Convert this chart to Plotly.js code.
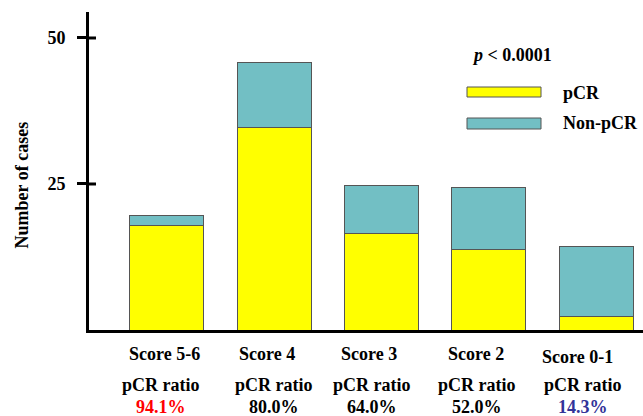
<!DOCTYPE html>
<html>
<head>
<meta charset="utf-8">
<script src="https://cdn.plot.ly/plotly-3.0.1.min.js"></script>
<style>html,body{margin:0;padding:0;background:#fff;}#chart{width:643px;height:416px;}</style>
</head>
<body>
<div id="chart"></div>
<script>
// ---- data ----
var categories = ["Score 5-6", "Score 4", "Score 3", "Score 2", "Score 0-1"];
var pcrValues = [17.9, 34.7, 16.6, 13.8, 2.3];
var nonPcrValues = [1.7, 11.1, 8.1, 10.6, 12.0];
var ratioLabels = ["94.1%", "80.0%", "64.0%", "52.0%", "14.3%"];
var tickVals = [25, 50];
var tickText = ["25", "50"];
var pText = "<i>p</i> < 0.0001";
var seriesNames = ["pCR", "Non-pCR"];

// ---- style ----
var FONT = '"Liberation Serif", "Times New Roman", Times, serif';
var YELLOW = "#FFFF00", TEAL = "#72BFC4", EDGE = "#555555";
var ratioColors = ["#FF0000", "#000000", "#000000", "#000000", "#333399"];
var W = 643, H = 416, ML = 89, MR = 0, MT = 12, MB = 86;
var PW = W - ML - MR, PH = H - MT - MB;
function px(x) { return (x - ML) / PW; }
function py(y) { return (H - MB - y) / PH; }
var scoreShift = [-2, -7, -13, -13, -19];
var scoreY = [354, 354, 354, 354, 357];
var ratioShift = [-6, 0, -10, -12, -13];

var traces = [
  {type: "bar", name: seriesNames[0], x: categories, y: pcrValues,
   marker: {color: YELLOW, line: {color: EDGE, width: 1}}, showlegend: false},
  {type: "bar", name: seriesNames[1], x: categories, y: nonPcrValues,
   marker: {color: TEAL, line: {color: EDGE, width: 1}}, showlegend: false}
];

var ann = [];
var bold = {family: FONT, size: 18, color: "#000", weight: "bold"};
categories.forEach(function (c, i) {
  ann.push({xref: "x", yref: "paper", x: i, y: py(scoreY[i]), xshift: scoreShift[i],
    text: c, showarrow: false, xanchor: "center", yanchor: "middle", font: bold});
  ann.push({xref: "x", yref: "paper", x: i, y: py(385), xshift: ratioShift[i],
    text: "pCR ratio", showarrow: false, xanchor: "center", yanchor: "middle", font: bold});
  ann.push({xref: "x", yref: "paper", x: i, y: py(407), xshift: ratioShift[i],
    text: ratioLabels[i], showarrow: false, xanchor: "center", yanchor: "middle",
    font: {family: FONT, size: 18, color: ratioColors[i], weight: "bold"}});
});
ann.push({xref: "paper", yref: "paper", x: px(21.5), y: py(185), text: "Number of cases",
  textangle: -90, showarrow: false, xanchor: "center", yanchor: "middle", font: bold});
ann.push({xref: "paper", yref: "paper", x: px(512), y: py(55), text: pText,
  showarrow: false, xanchor: "center", yanchor: "middle", font: bold});
ann.push({xref: "paper", yref: "paper", x: px(561), y: py(93), text: seriesNames[0],
  showarrow: false, xanchor: "left", yanchor: "middle", font: bold});
ann.push({xref: "paper", yref: "paper", x: px(561), y: py(123), text: seriesNames[1],
  showarrow: false, xanchor: "left", yanchor: "middle", font: bold});

var shapes = [
  {type: "rect", xref: "paper", yref: "paper", x0: px(467), x1: px(541), y0: py(97), y1: py(87),
   fillcolor: YELLOW, line: {color: EDGE, width: 1}},
  {type: "rect", xref: "paper", yref: "paper", x0: px(467), x1: px(541), y0: py(129), y1: py(118),
   fillcolor: TEAL, line: {color: EDGE, width: 1}}
];
tickVals.forEach(function (v) {
  shapes.push({type: "line", xref: "paper", yref: "y", xsizemode: "pixel", xanchor: 0,
    x0: 0, x1: 7, y0: v, y1: v, line: {color: "#000", width: 3}});
});

var layout = {
  width: W, height: H,
  margin: {l: ML, r: MR, t: MT, b: MB, pad: 0},
  paper_bgcolor: "#fff", plot_bgcolor: "#fff",
  font: {family: FONT, size: 18, color: "#000", weight: "bold"},
  barmode: "stack", bargap: 0.31,
  showlegend: false,
  xaxis: {type: "category", range: [-0.727, 4.438], showticklabels: false, ticks: "",
    showline: true, linecolor: "#000", linewidth: 3, showgrid: false, zeroline: false, fixedrange: true},
  yaxis: {range: [0, 54.45], tickvals: tickVals, ticktext: tickText, ticks: "outside",
    ticklen: 9, tickwidth: 3, tickcolor: "#000", ticklabelstandoff: 8,
    tickfont: {family: FONT, size: 18, color: "#000", weight: "bold"},
    showline: true, linecolor: "#000", linewidth: 3, showgrid: false, zeroline: false, fixedrange: true},
  annotations: ann,
  shapes: shapes
};

Plotly.newPlot("chart", traces, layout, {staticPlot: true, displayModeBar: false});
</script>
</body>
</html>
